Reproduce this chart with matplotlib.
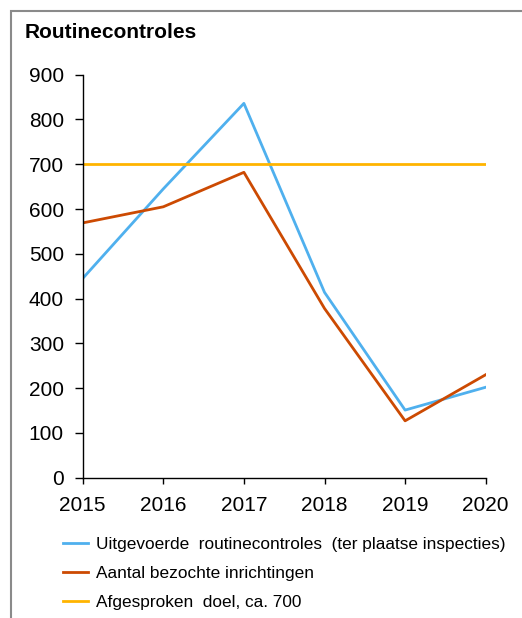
import matplotlib
matplotlib.use("Agg")
import matplotlib.pyplot as plt
from matplotlib.patches import Rectangle

plt.rcParams['font.family'] = ['Liberation Sans', 'DejaVu Sans']

years = [2015, 2016, 2017, 2018, 2019, 2020]
uitgevoerd = [445, 645, 836, 414, 151, 202]
bezocht = [569, 605, 682, 378, 127, 230]
doel = [700, 700, 700, 700, 700, 700]
yticks = [0, 100, 200, 300, 400, 500, 600, 700, 800, 900]

labels = ["Uitgevoerde  routinecontroles  (ter plaatse inspecties)",
          "Aantal bezochte inrichtingen",
          "Afgesproken  doel, ca. 700"]
colors = ["#4FB0EE", "#CC4A02", "#FFB400"]

W, H = 522, 618
fig = plt.figure(figsize=(W / 100, H / 100), dpi=100)
ax = fig.add_axes([82.7 / W, 1 - 477.7 / H, (485.7 - 82.7) / W, (477.7 - 74.7) / H])

ax.plot(years, uitgevoerd, color=colors[0], lw=2.0, label=labels[0])
ax.plot(years, bezocht, color=colors[1], lw=2.0, label=labels[1])
ax.plot(years, doel, color=colors[2], lw=2.0, label=labels[2])

ax.set_xlim(2015, 2020)
ax.set_ylim(0, 900)
ax.set_xticks(years)
ax.set_xticklabels([str(y) for y in years])
ax.set_yticks(yticks)
ax.spines['top'].set_visible(False)
ax.spines['right'].set_visible(False)
for s in ['left', 'bottom']:
    ax.spines[s].set_linewidth(1.0)
ax.tick_params(axis='y', direction='out', length=5.5, width=1.0, pad=8, labelsize=15)
ax.tick_params(axis='x', direction='out', length=4, width=1.0, pad=9, labelsize=15)
for sp in ax.spines.values():
    sp.set_clip_on(False)

fig.text(25 / W, 1 - 33 / H, "Routinecontroles", fontsize=15, fontweight='bold',
         ha='left', va='center')

leg = fig.legend(loc='upper left', bbox_to_anchor=(63 / W, 1 - 537 / H),
                 frameon=False, fontsize=12.4, handlelength=1.45, handletextpad=0.47,
                 labelspacing=0.82, borderpad=0, borderaxespad=0)

# outer frame
fig.patches.append(Rectangle((11 / W, -0.1), 1.2, 1 - 11 / H + 0.1,
                             transform=fig.transFigure, fill=False,
                             edgecolor='#8a8a8a', lw=1.5))

fig.savefig("out.png", dpi=100)
